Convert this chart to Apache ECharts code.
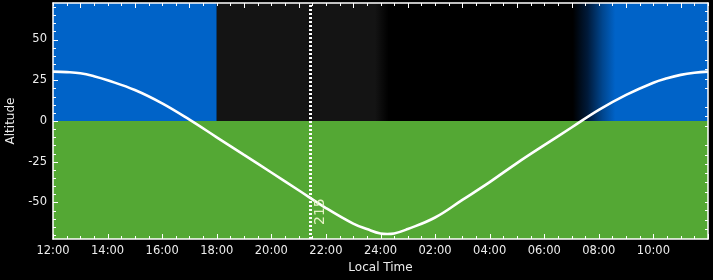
<!DOCTYPE html>
<html><head><meta charset="utf-8">
<script src="https://cdn.jsdelivr.net/npm/echarts@6/dist/echarts.min.js"></script>
<style>html,body{margin:0;padding:0;background:#000}#c{width:713px;height:280px}</style>
</head><body><div id="c"></div>
<script>
// Hours elapsed since 12:00 local time
const hours = [0,0.5,1,1.5,2,3,4,5,6,7,8,9,10,11,11.5,12,12.25,12.5,13,14,15,16,17,18,19,20,21,22,22.5,23,23.5,24];
// Altitude (degrees)
const altitude = [30.3,30.0,29.3,27.5,25.0,19.0,10.8,0.8,-10.0,-20.8,-31.6,-42.5,-53.4,-63.0,-66.3,-69.0,-69.3,-69.0,-66.3,-59.2,-48.4,-37.5,-25.8,-14.8,-4.0,6.8,16.0,23.5,26.2,28.3,29.6,30.3];
// Bottom axis tick labels (every 2 h starting at 12:00)
const xTickLabels = ['12:00','14:00','16:00','18:00','20:00','22:00','24:00','02:00','04:00','06:00','08:00','10:00','12:00'];
const yTickValues = [-50,-25,0,25,50];
// Sky phase boundaries (hours since 12:00)
const dayEnd = 6, duskFadeStart = 11.8, nightStart = 12.3, dawnStart = 19.05, dayStart = 20.6;
// Marker ("now") time and its label
const markerHour = 9.43;
const markerLabel = '215';
// Right-axis tick positions (in altitude units)
const rightTicks = [67.2,61.1,55.5,49.4,37.7,31.8,26.0,20.1,8.6,3.1,-3.1,-14.7,-20.9,-26.6,-32.1,-37.2,-43.4,-49.5,-54.9,-60.8,-66.5];

const yLim = 72.4;
const BLUE = '#0063c8', GREEN = '#54a834', GRAY = '#141414';
const FONT = 'DejaVu Sans';
const txt = '#ececec';

// Tick marks: [x, y, side(0 bottom,1 top,2 left,3 right), major(1)/minor(0)]
const tickItems = [];
for (let k = 0; k <= 48; k++) {
  const h = k / 2;
  tickItems.push([h, 0, 0, k % 4 === 0 ? 1 : 0]);           // bottom: majors at even hours
  tickItems.push([h, 0, 1, k % 4 === 2 ? 1 : 0]);           // top: majors at odd hours
}
for (let v = -70; v <= 70; v += 5) tickItems.push([0, v, 2, v % 25 === 0 ? 1 : 0]);
rightTicks.forEach(v => tickItems.push([24, v, 3, 0]));

const lg = (a, b) => new echarts.graphic.LinearGradient(0, 0, 1, 0, [{offset: 0, color: a}, {offset: 1, color: b}]);
const dawnGrad = new echarts.graphic.LinearGradient(0, 0, 1, 0, [
  {offset: 0, color: '#000000'}, {offset: 0.35, color: '#001a3a'}, {offset: 0.7, color: '#00468f'}, {offset: 1, color: BLUE}]);

const chart = echarts.init(document.getElementById('c'), null, {renderer: 'canvas'});
const axLine = () => ({show: true, onZero: false, lineStyle: {color: '#ffffff', width: 1.5}});
chart.setOption({
  backgroundColor: '#000000',
  animation: false,
  grid: {left: 53, right: 5, top: 3, bottom: 41, containLabel: false, outerBoundsContain: 'axisLabel'},
  xAxis: [
    {type: 'value', position: 'bottom', min: 0, max: 24, interval: 2,
     name: 'Local Time', nameLocation: 'middle', nameGap: 23,
     nameTextStyle: {color: txt, fontFamily: FONT, fontSize: 12},
     axisLine: axLine(), axisTick: {show: false},
     axisLabel: {color: txt, fontFamily: FONT, fontSize: 11.5, margin: 6, showMaxLabel: false,
       formatter: v => xTickLabels[Math.round(v / 2)]},
     splitLine: {show: false}},
    {type: 'value', position: 'top', min: 0, max: 24,
     axisLine: axLine(), axisTick: {show: false},
     axisLabel: {show: false}, splitLine: {show: false}}
  ],
  yAxis: [
    {type: 'value', position: 'left', min: -yLim, max: yLim,
     name: 'Altitude', nameLocation: 'middle', nameGap: 36, nameRotate: 90,
     nameTextStyle: {color: txt, fontFamily: FONT, fontSize: 12},
     axisLine: axLine(), axisTick: {show: false},
     axisLabel: {color: txt, fontFamily: FONT, fontSize: 11.5, margin: 6, customValues: yTickValues},
     splitLine: {show: false}},
    {type: 'value', position: 'right', min: -yLim, max: yLim,
     axisLine: axLine(), axisTick: {show: false},
     axisLabel: {show: false}, splitLine: {show: false}}
  ],
  series: [
    {type: 'line', xAxisIndex: 0, yAxisIndex: 0, data: [], silent: true, z: -2,
     markArea: {silent: true, z: -2, data: [
       [{xAxis: 0, yAxis: 0, itemStyle: {color: BLUE}}, {xAxis: dayEnd, yAxis: yLim}],
       [{xAxis: dayEnd, yAxis: 0, itemStyle: {color: GRAY}}, {xAxis: duskFadeStart + 0.1, yAxis: yLim}],
       [{xAxis: duskFadeStart, yAxis: 0, itemStyle: {color: lg(GRAY, '#000000')}}, {xAxis: nightStart, yAxis: yLim}],
       [{xAxis: dayStart - 0.1, yAxis: 0, itemStyle: {color: BLUE}}, {xAxis: 24, yAxis: yLim}],
       [{xAxis: dawnStart, yAxis: 0, itemStyle: {color: dawnGrad}}, {xAxis: dayStart, yAxis: yLim}],
       [{xAxis: 0, yAxis: -yLim, itemStyle: {color: GREEN}}, {xAxis: 24, yAxis: 0}]
     ]}},
    {type: 'custom', xAxisIndex: 0, yAxisIndex: 0, silent: true, clip: false, z: 3,
     data: tickItems,
     renderItem: (params, api) => {
       const cs = params.coordSys;
       const side = api.value(2);
       const len = api.value(3) ? 5 : 3;
       const p = api.coord([api.value(0), api.value(1)]);
       let x1, y1, x2, y2;
       if (side === 0 || side === 1) {
         x1 = x2 = Math.round(p[0]) + 0.5;
         y1 = side === 0 ? cs.y + cs.height : cs.y;
         y2 = side === 0 ? y1 - len : y1 + len;
       } else {
         y1 = y2 = Math.round(p[1]) + 0.5;
         x1 = side === 2 ? cs.x : cs.x + cs.width;
         x2 = side === 2 ? x1 + len : x1 - len;
       }
       return {type: 'line', shape: {x1, y1, x2, y2}, style: {stroke: '#ffffff', lineWidth: 1}};
     }},
    {type: 'line', xAxisIndex: 0, yAxisIndex: 0, z: 5,
     data: hours.map((h, i) => [h, altitude[i]]),
     smooth: 0.4, showSymbol: false, symbol: 'none',
     lineStyle: {color: '#ffffff', width: 2.6},
     markLine: {silent: true, symbol: ['none', 'none'], z: 6,
       lineStyle: {color: '#ffffff', width: 3, type: [2, 2]},
       label: {show: true, position: 'insideStartBottom', distance: [14, 3],
         formatter: markerLabel, color: '#e4f2c4', fontFamily: FONT, fontSize: 14},
       data: [{xAxis: markerHour}]}}
  ]
});
</script></body></html>
